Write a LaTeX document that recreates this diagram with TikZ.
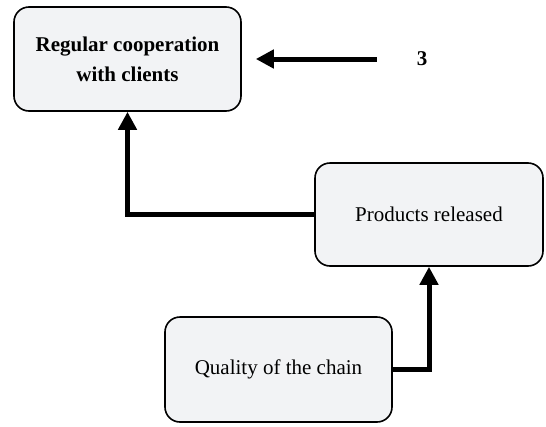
\documentclass[tikz,border=0pt]{standalone}
\usepackage{fontspec}
\setmainfont{Liberation Serif}
\usetikzlibrary{arrows.meta}
\definecolor{boxfill}{HTML}{F2F3F5}
\tikzset{
  box/.style={draw=black, line width=1.6pt, rounded corners=15pt, fill=boxfill,
    minimum width=227pt, minimum height=104pt, align=center, inner sep=0pt,
    font=\fontsize{21}{30}\selectfont},
  conn/.style={line width=5pt, -{Triangle[length=18pt,width=18pt]}}
}
\begin{document}
\begin{tikzpicture}[x=1pt,y=-1pt]
\useasboundingbox (0,0) rectangle (546,426);
\node[box, font=\bfseries\fontsize{21}{30}\selectfont] (b1) at (127.5,59) {Regular cooperation\\with clients};
\node[box, minimum width=228pt, minimum height=103pt] (b2) at (429,214.5) {Products released};
\node[box, minimum height=105pt] (b3) at (278.5,369.5) {Quality of the chain};
\node[font=\bfseries\fontsize{21}{30}\selectfont, inner sep=0pt] (three) at (422,59) {3};
\draw[conn, shorten <=40pt, shorten >=14pt] (three.west) -- (b1.east);
\draw[conn, rounded corners=0pt] (b2.west) -| (b1.south);
\draw[conn] (b3.east) -| (b2.south);
\end{tikzpicture}
\end{document}
